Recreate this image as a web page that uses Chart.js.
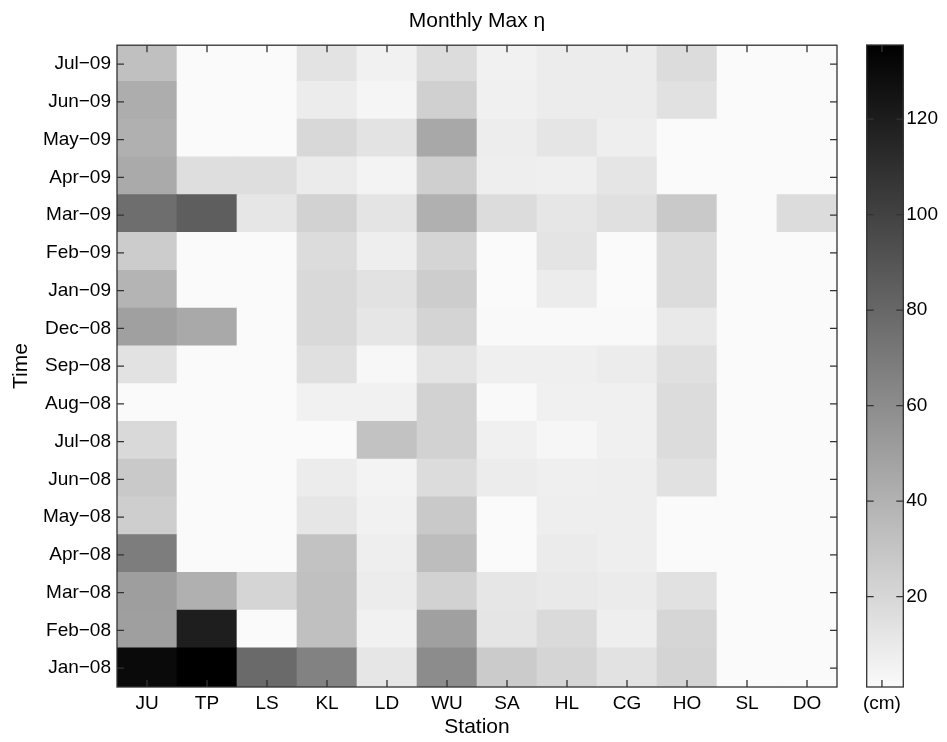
<!DOCTYPE html>
<html>
<head>
<meta charset="utf-8">
<title>Monthly Max η</title>
<script src="https://cdn.jsdelivr.net/npm/chart.js@4.4.1/dist/chart.umd.min.js"></script>
<style>
  html, body { margin: 0; padding: 0; background: #fff; }
  #wrap { position: relative; width: 947px; height: 742px; }
  #heat { position: absolute; left: 0; top: 0; }
  #cbar { position: absolute; left: 850px; top: 0; }
</style>
</head>
<body>
<div id="wrap">
  <canvas id="heat" width="850" height="742"></canvas>
  <canvas id="cbar" width="97" height="742"></canvas>
</div>
<script>
const stations = ['JU', 'TP', 'LS', 'KL', 'LD', 'WU', 'SA', 'HL', 'CG', 'HO', 'SL', 'DO'];

// rows from bottom (Jan-08) to top (Jul-09)
const months = ['Jan−08', 'Feb−08', 'Mar−08', 'Apr−08', 'May−08', 'Jun−08', 'Jul−08', 'Aug−08', 'Sep−08',
                'Dec−08', 'Jan−09', 'Feb−09', 'Mar−09', 'Apr−09', 'May−09', 'Jun−09', 'Jul−09'];

// monthly max eta (cm), one row per month, columns follow stations
const etaMax = [
  [130.1, 135.5, 78.5, 65.6, 11.9, 60.2, 26.4, 21.0, 14.0, 21.5, 1.1, 1.1],
  [50.0, 119.4, 1.1, 32.3, 5.9, 49.5, 12.4, 18.3, 7.5, 20.5, 1.1, 1.1],
  [50.6, 40.9, 21.0, 32.3, 8.6, 22.6, 11.9, 10.2, 9.2, 14.5, 1.1, 1.1],
  [68.3, 1.1, 1.1, 31.2, 7.5, 33.9, 1.1, 9.2, 7.5, 1.1, 1.1, 1.1],
  [24.8, 1.1, 1.1, 11.9, 5.9, 27.4, 1.1, 7.5, 7.5, 1.1, 1.1, 1.1],
  [27.4, 1.1, 1.1, 8.6, 4.9, 17.2, 8.6, 7.0, 7.5, 14.5, 1.1, 1.1],
  [18.8, 1.1, 1.1, 1.1, 31.2, 22.6, 6.5, 3.3, 6.5, 17.2, 1.1, 1.1],
  [1.1, 1.1, 1.1, 5.9, 5.9, 22.6, 1.6, 6.5, 6.5, 17.2, 1.1, 1.1],
  [14.0, 1.1, 1.1, 15.1, 2.7, 12.9, 7.0, 7.0, 8.6, 15.1, 1.1, 1.1],
  [49.5, 44.6, 1.1, 18.8, 11.9, 21.5, 1.6, 1.6, 1.6, 10.2, 1.1, 1.1],
  [38.7, 1.1, 1.1, 18.8, 14.0, 25.3, 1.1, 8.6, 1.1, 17.2, 1.1, 1.1],
  [25.8, 1.1, 1.1, 17.2, 7.5, 21.0, 1.1, 12.9, 1.1, 17.2, 1.1, 1.1],
  [76.4, 85.0, 11.9, 22.6, 12.9, 40.9, 17.2, 11.9, 15.1, 27.4, 1.1, 17.2],
  [44.1, 16.2, 16.2, 9.2, 4.9, 24.2, 7.5, 7.0, 12.4, 1.1, 1.1, 1.1],
  [40.9, 1.1, 1.1, 19.4, 13.5, 45.2, 8.1, 12.4, 7.5, 1.1, 1.1, 1.1],
  [42.5, 1.1, 1.1, 8.6, 3.8, 23.7, 6.5, 8.6, 8.6, 14.5, 1.1, 1.1],
  [32.3, 1.1, 1.1, 13.5, 5.9, 17.2, 5.9, 8.6, 8.6, 17.2, 1.1, 1.1]
];

// colour bar
const cbarTicks = [20, 40, 60, 80, 100, 120];
const cmin = 1.1;
const cmax = 135.5;

Chart.defaults.font.family = "'Liberation Sans', Arial, Helvetica, sans-serif";
Chart.defaults.color = '#000';

// reversed gray colormap: low = near white, high = black
function grayFor(v) {
    let t = (v - cmin) / (cmax - cmin);
    t = Math.max(0, Math.min(1, t));
    const g = Math.round(250 * (1 - t));
    return 'rgb(' + g + ',' + g + ',' + g + ')';
}

// box round the plot and matlab style ticks pointing inwards
const frameTicks = {
    id: 'frameTicks',
    afterDatasetsDraw(chart) {
        const {ctx, chartArea: a, scales: {x, y}} = chart;
        ctx.save();
        ctx.strokeStyle = '#333';
        ctx.lineWidth = 1.3;
        ctx.beginPath();
        x.ticks.forEach((t, i) => {
            const px = x.getPixelForTick(i);
            ctx.moveTo(px, a.bottom); ctx.lineTo(px, a.bottom - 7);
            ctx.moveTo(px, a.top); ctx.lineTo(px, a.top + 7);
        });
        y.ticks.forEach((t, i) => {
            const py = y.getPixelForTick(i);
            ctx.moveTo(a.left, py); ctx.lineTo(a.left + 7, py);
            ctx.moveTo(a.right, py); ctx.lineTo(a.right - 7, py);
        });
        ctx.stroke();
        ctx.strokeRect(a.left, a.top, a.right - a.left, a.bottom - a.top);
        ctx.restore();
    }
};

// gradient of the colour bar, placed with its own y scale
const cbarFill = {
    id: 'cbarFill',
    beforeDatasetsDraw(chart) {
        const {ctx, chartArea: a, scales: {y}} = chart;
        const grad = ctx.createLinearGradient(0, y.getPixelForValue(cmin), 0, y.getPixelForValue(cmax));
        grad.addColorStop(0, grayFor(cmin));
        grad.addColorStop(1, grayFor(cmax));
        ctx.save();
        ctx.fillStyle = grad;
        ctx.fillRect(a.left, a.top, a.right - a.left, a.bottom - a.top);
        ctx.restore();
    }
};

//Heat map: one row of floating bars per month
const heatChart = new Chart(document.getElementById('heat'), {
    type: 'bar',
    data: {
        labels: stations,
        datasets: months.map((m, i) => ({
            label: m,
            // small overlap upwards hides seams between rows
            data: stations.map(() => [i, i === months.length - 1 ? i + 1 : i + 1.04]),
            backgroundColor: etaMax[i].map(grayFor),
            borderWidth: 0,
            grouped: false,
            barPercentage: 1,
            categoryPercentage: 1
        }))
    },
    options: {
        responsive: false,
        animation: false,
        layout: { padding: { right: 13 } },
        plugins: {
            legend: { display: false },
            tooltip: { enabled: false },
            title: {
                display: true,
                text: 'Monthly Max η',
                fullSize: false,
                color: '#000',
                font: { size: 21, weight: 'normal' },
                padding: { top: 9, bottom: 11 }
            }
        },
        scales: {
            x: {
                grid: { display: false, drawTicks: false },
                border: { display: false },
                ticks: { font: { size: 19 }, padding: 5 },
                title: { display: true, text: 'Station', font: { size: 21 }, padding: { top: 0, bottom: 2 } },
                afterFit: (s) => { s.height = 55; }
            },
            y: {
                type: 'linear',
                min: 0,
                max: months.length,
                grid: { display: false, drawTicks: false },
                border: { display: false },
                afterBuildTicks: (s) => { s.ticks = months.map((m, i) => ({ value: i + 0.5 })); },
                ticks: { font: { size: 19 }, padding: 6, callback: (v, i) => months[i] },
                title: { display: true, text: 'Time', font: { size: 21 }, padding: { top: 9, bottom: 0 } },
                afterFit: (s) => { s.width = 117; }
            }
        }
    },
    plugins: [frameTicks]
});

//Colour bar
const cbarChart = new Chart(document.getElementById('cbar'), {
    type: 'bar',
    data: { datasets: [] },
    options: {
        responsive: false,
        animation: false,
        layout: { padding: { left: 16.7, top: 45 } },
        plugins: {
            legend: { display: false },
            tooltip: { enabled: false }
        },
        scales: {
            x: {
                type: 'linear',
                min: 0,
                max: 3,
                grid: { display: false, drawTicks: false },
                border: { display: false },
                afterBuildTicks: (s) => { s.ticks = [{ value: 1 }]; },
                ticks: { font: { size: 19 }, padding: 5, callback: () => '(cm)' },
                afterFit: (s) => { s.height = 55; }
            },
            y: {
                type: 'linear',
                position: 'right',
                min: cmin,
                max: cmax,
                grid: { display: false, drawTicks: false },
                border: { display: false },
                afterBuildTicks: (s) => { s.ticks = cbarTicks.map(v => ({ value: v })); },
                ticks: { font: { size: 19 }, padding: 3, callback: (v) => v },
                afterFit: (s) => { s.width = 43.7; }
            }
        }
    },
    plugins: [cbarFill, frameTicks]
});
</script>
</body>
</html>
